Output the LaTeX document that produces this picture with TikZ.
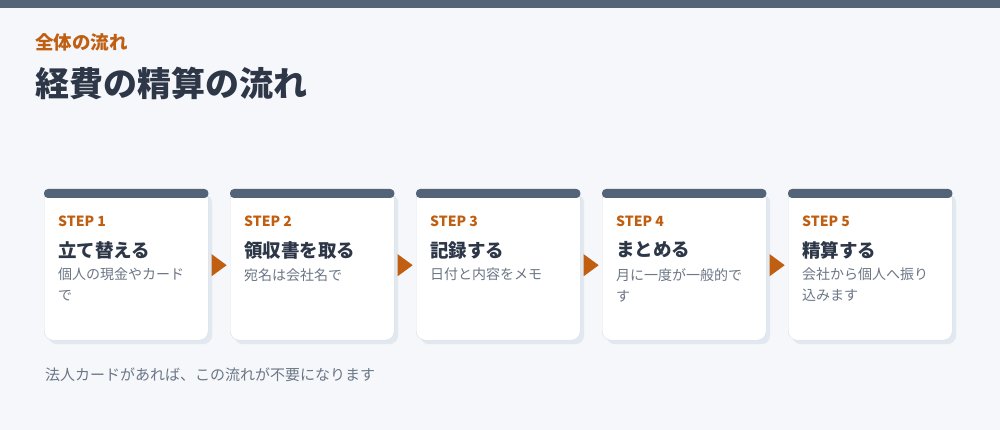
\documentclass[tikz,border=0pt]{standalone}
\usepackage{fontspec}
\setmainfont{Noto Sans CJK JP}
\usepackage{tikz}
\usetikzlibrary{calc,shadows}
\definecolor{pagebg}{HTML}{F5F7FA}
\definecolor{bardark}{HTML}{546478}
\definecolor{accent}{HTML}{C05F12}
\definecolor{inkdark}{HTML}{2D3748}
\definecolor{inkgray}{HTML}{6B7686}
\definecolor{cardline}{HTML}{D8DEE6}
\definecolor{shadowgray}{HTML}{E2E8F0}
\tikzset{
  cardbox/.style={draw=cardline,fill=white,rounded corners=9pt,minimum width=164pt,
    minimum height=150pt,inner sep=0pt,anchor=north west,
    drop shadow={shadow xshift=4pt,shadow yshift=-4pt,fill=shadowgray,opacity=1}},
  steplabel/.style={anchor=base west,inner sep=0pt,text=accent,font=\fontsize{14}{14}\selectfont\bfseries},
  steptitle/.style={anchor=west,inner sep=0pt,text=inkdark,font=\fontsize{18.5}{18.5}\selectfont\bfseries},
  steptext/.style={anchor=north west,inner sep=0pt,align=left,text=inkgray,font=\fontsize{14}{21}\selectfont}
}
\newcommand{\drawStep}[4]{% number, left x, title, text
  \node[cardbox] (card#1) at (#2,190) {};
  \fill[bardark,rounded corners=4pt] ([yshift=1pt]card#1.north west) rectangle ([yshift=-8pt]card#1.north east);
  \node[steplabel] (label#1) at (#2+14,227) {STEP #1};
  \node[steptitle] (title#1) at (#2+14,250) {#3};
  \node[steptext] (text#1) at (#2+14,268) {#4};
}
\newcommand{\drawArrow}[2]{% from card, to card
  \coordinate (m#1) at ($(card#1.east)!0.5!(card#2.west)$);
  \fill[accent] ($(m#1)+(-7.5pt,11pt)$) -- ($(m#1)+(7.5pt,0pt)$) -- ($(m#1)+(-7.5pt,-11pt)$) -- cycle;
}

\begin{document}
\begin{tikzpicture}[x=1pt,y=-1pt]
% Page and top band
\fill[pagebg] (0,0) rectangle (1000,430);
\useasboundingbox (0,0) rectangle (1000,430);
\fill[bardark] (0,0) rectangle (1000,8);

% Heading
\node[anchor=west,inner sep=0pt,text=accent,font=\fontsize{18.5}{18.5}\selectfont\bfseries] (kicker) at (35,42) {全体の流れ};
\node[anchor=west,inner sep=0pt,text=inkdark,font=\fontsize{34}{34}\selectfont\bfseries] (heading) at (35,83) {経費の精算の流れ};

% Steps
\drawStep{1}{44}{立て替える}{個人の現金やカード\\で}
\drawStep{2}{230}{領収書を取る}{宛名は会社名で}
\drawStep{3}{416}{記録する}{日付と内容をメモ}
\drawStep{4}{602}{まとめる}{月に一度が一般的で\\す}
\drawStep{5}{788}{精算する}{会社から個人へ振り\\込みます}

% Arrows between steps
\drawArrow{1}{2}
\drawArrow{2}{3}
\drawArrow{3}{4}
\drawArrow{4}{5}

% Note
\node[anchor=west,inner sep=0pt,text=inkgray,font=\fontsize{15}{15}\selectfont] (note) at (45,375) {法人カードがあれば、この流れが不要になります};
\end{tikzpicture}
\end{document}
